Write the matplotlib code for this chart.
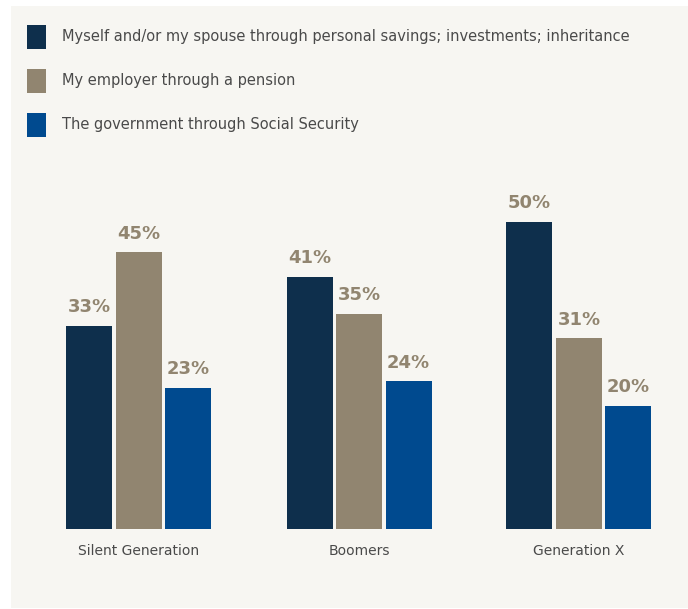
import matplotlib
matplotlib.use("Agg")
import matplotlib.pyplot as plt
import numpy as np
from matplotlib.patches import Rectangle

NAVY, TAN, BLUE = "#0E2F4C", "#918570", "#004A8F"
BG, TXT = "#F7F6F2", "#4A4A4A"

generations = ["Silent Generation", "Boomers", "Generation X"]
series = [
    "Myself and/or my spouse through personal savings; investments; inheritance",
    "My employer through a pension",
    "The government through Social Security",
]
savings = [33, 41, 50]
pension = [45, 35, 31]
social_security = [23, 24, 20]
colors = [NAVY, TAN, BLUE]

plt.rcParams["font.family"] = ["DejaVu Sans"]

W, H = 688, 609
fig = plt.figure(figsize=(W / 100, H / 100), dpi=100)
fig.patch.set_facecolor("white")
fig.patches.append(Rectangle((11 / W, 1 / H), 1 - 11 / W, (608 - 6) / H,
                             transform=fig.transFigure, facecolor=BG, edgecolor="none", zorder=-5))

# axes spans full width; baseline at y=529px from top
base = 529
ax = fig.add_axes([0, (H - base) / H, 1, base / H], zorder=2)
ax.set_facecolor("none")
ppu = 220.0  # pixels per group
ax.set_xlim(-139 / ppu, (W - 139) / ppu)
ax.set_ylim(0, base / 6.15)
ax.axis("off")

x = np.arange(len(generations))
bw = 46 / ppu
step = 49.5 / ppu
for i, (vals, c) in enumerate(zip([savings, pension, social_security], colors)):
    xs = x + (i - 1) * step
    ax.bar(xs, vals, width=bw, color=c, linewidth=0)
    for xi, v in zip(xs, vals):
        ax.annotate(f"{v}%", (xi, v), xytext=(0, 7), textcoords="offset points",
                    ha="center", va="bottom", fontsize=13, fontweight="bold",
                    color=TAN)

for xi, g in zip(x, generations):
    ax.annotate(g, (xi, 0), xytext=(0, -11), textcoords="offset points",
                ha="center", va="top", fontsize=10, color=TXT)

# legend drawn by hand
for j, (lab, c) in enumerate(zip(series, colors)):
    top = 25 + j * 44
    fig.patches.append(Rectangle((27 / W, 1 - (top + 24) / H), 19 / W, 24 / H,
                                 transform=fig.transFigure, facecolor=c, edgecolor="none"))
    fig.text(62 / W, 1 - (top + 12) / H, lab, ha="left", va="center",
             fontsize=10.5, color=TXT)

fig.savefig("out.png", dpi=100, facecolor=fig.get_facecolor())
